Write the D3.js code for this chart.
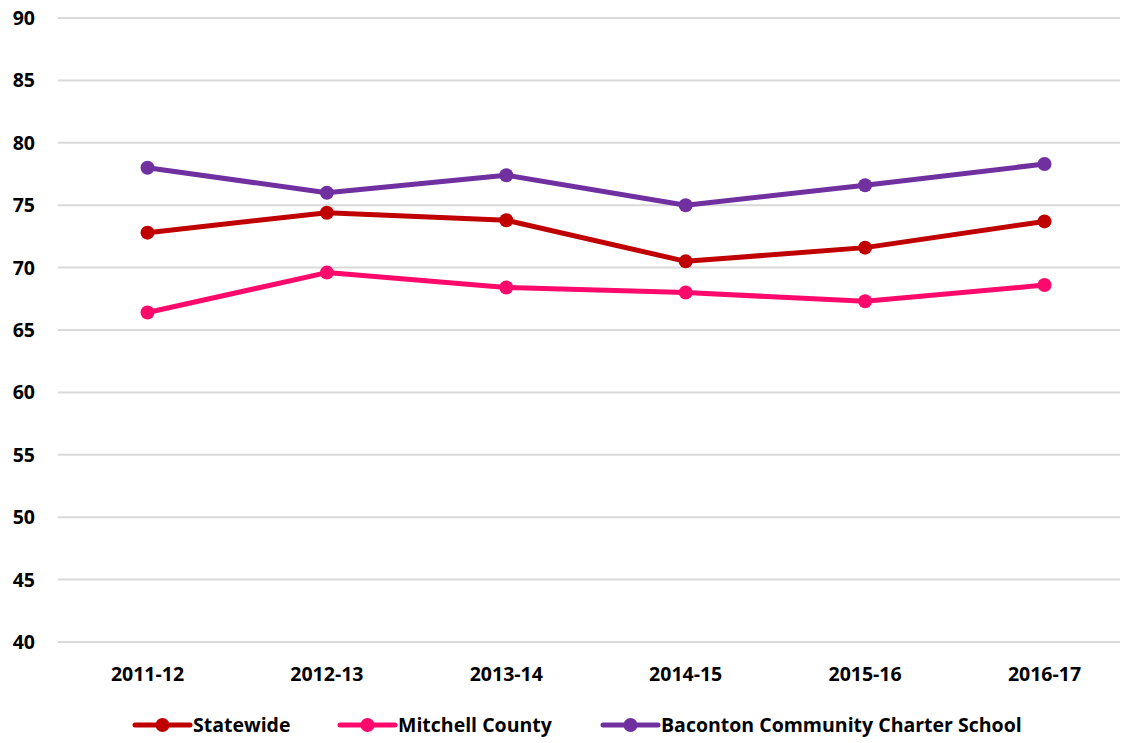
<!DOCTYPE html>
<html>
<head>
<meta charset="utf-8">
<script src="https://d3js.org/d3.v7.min.js"></script>
<style>
  body { margin: 0; background: #fff; }
  text { font-family: "Open Sans", Lato, sans-serif; font-weight: bold; fill: #000; }
</style>
</head>
<body>
<div id="chart"></div>
<script>
const years = ["2011-12", "2012-13", "2013-14", "2014-15", "2015-16", "2016-17"];
const statewide = [72.8, 74.4, 73.8, 70.5, 71.6, 73.7];
const mitchell = [66.4, 69.6, 68.4, 68.0, 67.3, 68.6];
const baconton = [78.0, 76.0, 77.4, 75.0, 76.6, 78.3];
const yTicks = [40, 45, 50, 55, 60, 65, 70, 75, 80, 85, 90];

const series = [
  { name: "Statewide", values: statewide, color: "#C00000", legendX: 135 },
  { name: "Mitchell County", values: mitchell, color: "#FF0A6C", legendX: 340 },
  { name: "Baconton Community Charter School", values: baconton, color: "#7030A0", legendX: 603 }
];

const svg = d3.select("#chart").append("svg")
  .attr("width", 1135)
  .attr("height", 743);

const x = d3.scalePoint().domain(years).range([147.5, 1044.5]);
const y = d3.scaleLinear().domain([40, 90]).range([642, 18]);

// gridlines
svg.append("g")
  .selectAll("line")
  .data(yTicks)
  .enter().append("line")
  .attr("x1", 58)
  .attr("x2", 1120)
  .attr("y1", d => y(d))
  .attr("y2", d => y(d))
  .attr("stroke", "#d9d9d9")
  .attr("stroke-width", 2);

// y axis labels
svg.append("g")
  .selectAll("text")
  .data(yTicks)
  .enter().append("text")
  .attr("x", 35)
  .attr("y", d => y(d))
  .attr("dy", "0.36em")
  .attr("text-anchor", "end")
  .style("font-size", "19.5px")
  .text(d => d);

// x axis labels
svg.append("g")
  .selectAll("text")
  .data(years)
  .enter().append("text")
  .attr("x", d => x(d))
  .attr("y", 674)
  .attr("dy", "0.36em")
  .attr("text-anchor", "middle")
  .style("font-size", "19.5px")
  .text(d => d);

const line = d3.line()
  .x((d, i) => x(years[i]))
  .y(d => y(d));

series.forEach(s => {
  svg.append("path")
    .datum(s.values)
    .attr("fill", "none")
    .attr("stroke", s.color)
    .attr("stroke-width", 5)
    .attr("stroke-linejoin", "round")
    .attr("d", line);

  svg.append("g")
    .selectAll("circle")
    .data(s.values)
    .enter().append("circle")
    .attr("cx", (d, i) => x(years[i]))
    .attr("cy", d => y(d))
    .attr("r", 7)
    .attr("fill", s.color);

  // legend
  const lg = svg.append("g").attr("transform", `translate(${s.legendX},725)`);
  lg.append("line")
    .attr("x1", 0).attr("x2", 55)
    .attr("y1", 0).attr("y2", 0)
    .attr("stroke", s.color)
    .attr("stroke-width", 5)
    .attr("stroke-linecap", "round");
  lg.append("circle")
    .attr("cx", 27.5).attr("cy", 0).attr("r", 7)
    .attr("fill", s.color);
  lg.append("text")
    .attr("x", 58)
    .attr("y", 0)
    .attr("dy", "0.36em")
    .style("font-size", "19.5px")
    .text(s.name);
});
</script>
</body>
</html>
